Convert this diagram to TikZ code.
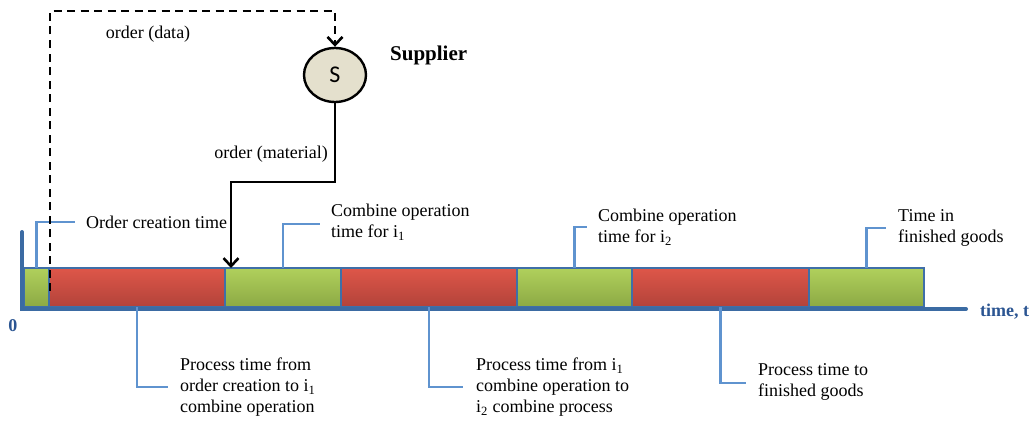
\documentclass[tikz,border=0pt]{standalone}
\usepackage{fontspec}
\setmainfont{Liberation Serif}
\newfontfamily\labelsans{Carlito}
\usetikzlibrary{arrows.meta,shapes.geometric}

\definecolor{segline}{HTML}{3F6FA8}
\definecolor{axisblue}{HTML}{3B6BA3}
\definecolor{callblue}{HTML}{5F93CF}
\definecolor{labelblue}{HTML}{2B5592}
\definecolor{greentop}{HTML}{B0D05C}
\definecolor{greenbot}{HTML}{8CA944}
\definecolor{redtop}{HTML}{DE5649}
\definecolor{redbot}{HTML}{B2433A}
\definecolor{supfill}{HTML}{E4E0CD}

\tikzset{
  txt/.style={font=\fontsize{18}{21}\selectfont, inner sep=0pt, align=left},
  seg/.style={draw=segline, line width=1.8pt, minimum height=39pt, inner sep=0pt, outer sep=0pt},
  seggreen/.style={seg, top color=greentop, bottom color=greenbot},
  segred/.style={seg, top color=redtop, bottom color=redbot},
  callout/.style={draw=callblue, line width=2.4pt},
  dataflow/.style={draw=black, line width=2.8pt, dash pattern=on 8pt off 5.5pt, -{Straight Barb[length=8pt,width=15pt,line width=2.6pt]}},
  matflow/.style={draw=black, line width=2.8pt, -{Straight Barb[length=8pt,width=15pt,line width=2.6pt]}},
}

\begin{document}
\begin{tikzpicture}[x=1pt,y=-1pt]
\useasboundingbox (0,0) rectangle (1032,420);

% time bar, left to right
\node[seggreen, minimum width=25pt, anchor=south west] (g0) at (24,307) {};
\node[segred,   minimum width=176pt, anchor=west] (r1) at (g0.east) {};
\node[seggreen, minimum width=116pt, anchor=west] (g1) at (r1.east) {};
\node[segred,   minimum width=176pt, anchor=west] (r2) at (g1.east) {};
\node[seggreen, minimum width=115pt, anchor=west] (g2) at (r2.east) {};
\node[segred,   minimum width=177pt, anchor=west] (r3) at (g2.east) {};
\node[seggreen, minimum width=115pt, anchor=west] (g3) at (r3.east) {};

% axes
\coordinate (ytop) at (22,232);
\coordinate (xend) at (966,309);
\draw[axisblue, line width=4pt, line cap=round] (ytop) |- (xend);
\node[font=\fontsize{18}{21}\selectfont\bfseries, text=labelblue] (zero) at (13,326) {0};
\node[font=\fontsize{18}{21}\selectfont\bfseries, text=labelblue, anchor=west, inner sep=0pt] (tlab) at (980,312) {time, t};

% labels above the bar
\node[txt, anchor=west] (lc0) at (86,222) {Order creation time};
\node[txt, anchor=west] (lc1) at (331,222) {Combine operation\\time for i\textsubscript{1}};
\node[txt, anchor=west] (lc2) at (598,227) {Combine operation\\time for i\textsubscript{2}};
\node[txt, anchor=west] (lc3) at (898,228) {Time in\\finished goods};

% labels below the bar
\node[txt, anchor=west] (lp1) at (180,387) {Process time from\\order creation to i\textsubscript{1}\\combine operation};
\node[txt, anchor=west] (lp2) at (476,387) {Process time from i\textsubscript{1}\\combine operation to\\i\textsubscript{2} combine process};
\node[txt, anchor=west] (lp3) at (758,382) {Process time to\\finished goods};

% callout leaders
\draw[callout] (g0.north) |- ([xshift=-11pt]lc0.west);
\draw[callout] (g1.north) |- ([xshift=-11pt,yshift=-2pt]lc1.west);
\draw[callout] (g2.north) |- ([xshift=-11pt]lc2.west);
\draw[callout] (g3.north) |- ([xshift=-12pt]lc3.west);
\draw[callout] (r1.south) |- ([xshift=-12pt]lp1.west);
\draw[callout] (r2.south) |- ([xshift=-13pt]lp2.west);
\draw[callout] (r3.south) |- ([xshift=-12pt,yshift=-1pt]lp3.west);

% supplier
\node[ellipse, draw=black, line width=2.4pt, fill=supfill, minimum width=62pt, minimum height=54pt, inner sep=0pt,
      font=\labelsans\fontsize{24}{26}\selectfont] (S) at (335,75) {S};
\node[font=\fontsize{21}{24}\selectfont\bfseries, anchor=west, inner sep=0pt] (sup) at (390,55) {Supplier};

% order (data) flow
\coordinate (dstart) at (50,291);
\coordinate (dcorner) at (50,11);
\draw[dataflow] (dstart) -- (dcorner) -| (S.north);
\node[txt] (odata) at (148,34) {order (data)};

% order (material) flow
\coordinate (mbend) at (231,182);
\draw[matflow] (S.south) |- (mbend) -- (mbend |- g1.north);
\node[txt, anchor=east] (omat) at (328,154) {order (material)};
\end{tikzpicture}
\end{document}
